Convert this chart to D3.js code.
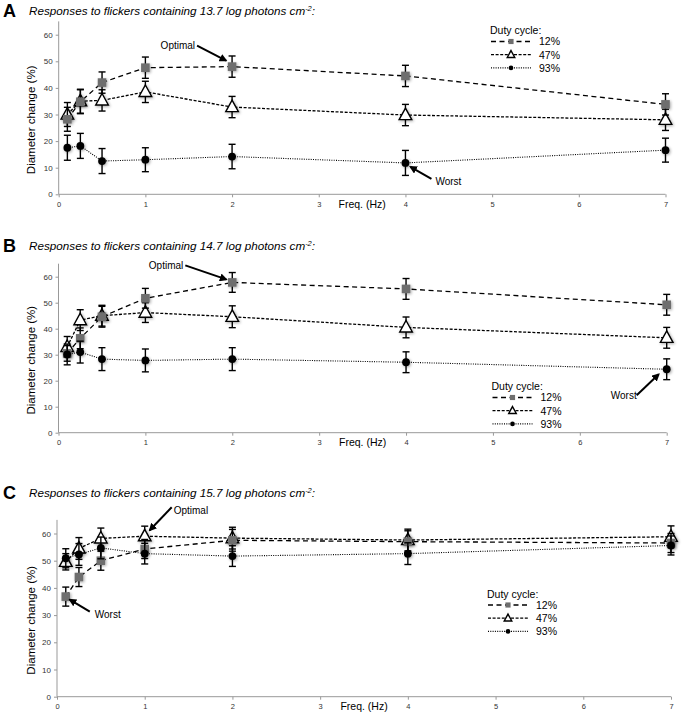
<!DOCTYPE html>
<html><head><meta charset="utf-8">
<script src="https://cdn.jsdelivr.net/npm/d3@7"></script>
<style>
body{margin:0;background:#fff;}
svg{display:block;font-family:"Liberation Sans",Arial,sans-serif;}
</style></head>
<body>
<svg id="chart" width="684" height="712"></svg>
<script>
// ---------- DATA ----------
const freqs = [0.1, 0.25, 0.5, 1, 2, 4, 7];
const xTicks = [0, 1, 2, 3, 4, 5, 6, 7];
const yTicks = [0, 10, 20, 30, 40, 50, 60];
const seriesNames = ["12%", "47%", "93%"];
const panelLetters = ["A", "B", "C"];
const intensities = ["13.7", "14.7", "15.7"];

// Panel A (13.7 log photons)
const a12 = [28.2, 34.8, 42.0, 47.6, 48.0, 44.5, 33.8];
const a47 = [30.0, 35.0, 35.3, 38.5, 32.8, 29.8, 28.0];
const a93 = [17.5, 18.2, 12.5, 13.0, 14.2, 11.8, 16.6];
const a12err = [4.5, 4.5, 4.0, 4.0, 4.0, 4.0, 4.0];
const a47err = [4.5, 4.5, 4.0, 4.0, 4.0, 4.0, 4.0];
const a93err = [4.7, 4.7, 4.7, 4.5, 4.6, 4.7, 4.5];
// Panel B (14.7 log photons)
const b12 = [30.5, 36.3, 44.6, 51.7, 57.8, 55.3, 49.2];
const b47 = [33.0, 43.3, 45.0, 46.2, 44.6, 40.5, 36.5];
const b93 = [30.1, 31.0, 28.3, 27.8, 28.3, 27.1, 24.4];
const b12err = [3.0, 4.0, 4.0, 3.8, 3.8, 4.0, 4.0];
const b47err = [4.0, 4.0, 4.0, 3.8, 4.2, 4.0, 4.0];
const b93err = [4.0, 4.2, 4.4, 4.4, 4.4, 4.0, 4.0];
// Panel C (15.7 log photons)
const c12 = [36.8, 44.0, 50.0, 54.3, 57.5, 57.0, 56.5];
const c47 = [49.6, 54.5, 58.2, 59.0, 58.3, 57.6, 58.8];
const c93 = [50.9, 52.3, 54.7, 52.6, 51.7, 52.6, 55.6];
const c12err = [3.5, 3.5, 3.5, 3.5, 4.0, 4.0, 3.5];
const c47err = [3.0, 4.0, 3.8, 3.7, 4.0, 4.0, 4.0];
const c93err = [3.5, 4.0, 4.0, 3.8, 3.8, 4.0, 3.5];

// annotations: label, panel, series index, point index
const annotations = [
  {panel: 0, text: "Optimal", s: 0, i: 4},
  {panel: 0, text: "Worst",   s: 2, i: 5},
  {panel: 1, text: "Optimal", s: 0, i: 4},
  {panel: 1, text: "Worst",   s: 2, i: 6},
  {panel: 2, text: "Optimal", s: 1, i: 3},
  {panel: 2, text: "Worst",   s: 0, i: 0}
];

// ---------- LAYOUT ----------
const panels = [
  {vals: [a12, a47, a93], errs: [a12err, a47err, a93err], x0: 58.7, x1: 665.5, yb: 194.3, ppu: 2.66, titleY: 15, legX: 490, legY: 34},
  {vals: [b12, b47, b93], errs: [b12err, b47err, b93err], x0: 58.5, x1: 666.7, yb: 432.7, ppu: 2.60, titleY: 250, legX: 491.5, legY: 390},
  {vals: [c12, c47, c93], errs: [c12err, c47err, c93err], x0: 57.0, x1: 671.0, yb: 696.7, ppu: 2.72, titleY: 497, legX: 487, legY: 597.5}
];
// annotation geometry (pixel offsets from the data point)
const annGeom = [
  {tip: [-6, -6], tail: [-35, -21], txt: [-37, -18], anchor: "end"},
  {tip: [5, 4], tail: [26, 16], txt: [30, 22], anchor: "start"},
  {tip: [-6, -3], tail: [-47, -17], txt: [-49, -13], anchor: "end"},
  {tip: [-8, 5], tail: [-30, 26], txt: [-30, 30], anchor: "end"},
  {tip: [5, -6], tail: [27, -29], txt: [29, -22], anchor: "start"},
  {tip: [4, 3], tail: [24, 15], txt: [29, 21], anchor: "start"}
];

const styles = [
  {dash: "5,3.5", width: 1.3},
  {dash: "3,1.6", width: 1.3},
  {dash: "1,1.3", width: 1.1}
];
const drawOrder = [1, 0, 2];

const svg = d3.select("#chart");
const defs = svg.append("defs");
const flt = defs.append("filter").attr("id", "glow").attr("x", "-60%").attr("y", "-60%").attr("width", "220%").attr("height", "220%");
flt.append("feGaussianBlur").attr("in", "SourceAlpha").attr("stdDeviation", 1.6).attr("result", "b");
flt.append("feOffset").attr("in", "b").attr("dx", 0.5).attr("dy", 1).attr("result", "o");
flt.append("feComponentTransfer").attr("in", "o").attr("result", "o2")
  .append("feFuncA").attr("type", "linear").attr("slope", 0.35);
const fm = flt.append("feMerge");
fm.append("feMergeNode").attr("in", "o2");
fm.append("feMergeNode").attr("in", "SourceGraphic");

defs.append("marker").attr("id", "arrow").attr("viewBox", "0 0 10 10")
  .attr("refX", 8).attr("refY", 5).attr("markerWidth", 4).attr("markerHeight", 4)
  .attr("orient", "auto").attr("markerUnits", "strokeWidth")
  .append("path").attr("d", "M0,0 L10,5 L0,10 z").attr("fill", "#000");

function drawMarker(g, s, x, y, scale) {
  scale = scale || 1;
  if (s === 0) {
    const h = 4.3 * scale;
    g.append("rect").attr("x", x - h).attr("y", y - h).attr("width", 2 * h).attr("height", 2 * h)
      .attr("fill", "#6e6e6e");
  } else if (s === 1) {
    const w = 6.3 * scale, ht = 11.5 * scale;
    g.append("path").attr("d", `M${x},${y - ht * 0.6} L${x + w},${y + ht * 0.4} L${x - w},${y + ht * 0.4} Z`)
      .attr("fill", "#fff").attr("stroke", "#000").attr("stroke-width", 1.4);
  } else {
    g.append("circle").attr("cx", x).attr("cy", y).attr("r", 3.9 * scale).attr("fill", "#000");
  }
}

panels.forEach((p, pi) => {
  const x = d3.scaleLinear().domain([0, 7]).range([p.x0, p.x1]);
  const y = d3.scaleLinear().domain([0, 65]).range([p.yb, p.yb - 65 * p.ppu]);
  const g = svg.append("g");

  // title
  g.append("text").attr("x", 3).attr("y", p.titleY + 2).attr("font-size", 18).attr("font-weight", "bold")
    .attr("fill", "#000").text(panelLetters[pi]);
  const t = g.append("text").attr("x", 29).attr("y", p.titleY).attr("font-size", 11.7)
    .attr("font-style", "italic").attr("fill", "#000");
  t.append("tspan").text("Responses to flickers containing " + intensities[pi] + " log photons cm");
  t.append("tspan").attr("font-size", 7.5).attr("dy", -4.5).text("-2");
  t.append("tspan").attr("dy", 4.5).text(":");

  // axes
  const yAxis = d3.axisLeft(y).tickValues(yTicks).tickSize(3).tickPadding(3).tickFormat(d3.format("d"));
  const ya = g.append("g").attr("transform", `translate(${p.x0},0)`).call(yAxis);
  ya.select(".domain").attr("stroke", "#999").attr("d", `M-0,${y(0)}V${y(65)}`);
  ya.selectAll(".tick line").attr("stroke", "#999");
  ya.selectAll(".tick text").attr("font-size", 8).attr("fill", "#333").attr("font-family", "Liberation Sans, Arial, sans-serif");

  const xAxis = d3.axisBottom(x).tickValues(xTicks).tickSize(3).tickPadding(4).tickFormat(d3.format("d"));
  const xa = g.append("g").attr("transform", `translate(0,${p.yb})`).call(xAxis);
  xa.select(".domain").attr("stroke", "#999").attr("d", `M${x(0)},0H${x(7)}`);
  xa.selectAll(".tick line").attr("stroke", "#999");
  xa.selectAll(".tick text").attr("font-size", 7.5).attr("fill", "#333").attr("font-family", "Liberation Sans, Arial, sans-serif");

  g.append("text").attr("x", (x(3) + x(4)) / 2).attr("y", p.yb + 13.2).attr("text-anchor", "middle")
    .attr("font-size", 10.5).attr("fill", "#000").text("Freq. (Hz)");

  const ymid = (y(0) + y(65)) / 2 + 12;
  g.append("text").attr("transform", `translate(35,${ymid}) rotate(-90)`).attr("text-anchor", "middle")
    .attr("font-size", 11.5).attr("fill", "#000").text("Diameter change (%)");

  // lines
  const line = d3.line().x((d, i) => x(freqs[i])).y(d => y(d));
  drawOrder.forEach(s => {
    g.append("path").datum(p.vals[s]).attr("d", line).attr("fill", "none")
      .attr("stroke", "#000").attr("stroke-width", styles[s].width).attr("stroke-dasharray", styles[s].dash);
  });

  // error bars + markers
  drawOrder.forEach(s => {
    const sg = g.append("g");
    p.vals[s].forEach((v, i) => {
      const cx = x(freqs[i]);
      const e = p.errs[s][i];
      const eg = sg.append("g").attr("stroke", "#000").attr("stroke-width", 1.4);
      eg.append("line").attr("x1", cx).attr("x2", cx).attr("y1", y(v - e)).attr("y2", y(v + e));
      eg.append("line").attr("x1", cx - 3.5).attr("x2", cx + 3.5).attr("y1", y(v - e)).attr("y2", y(v - e));
      eg.append("line").attr("x1", cx - 3.5).attr("x2", cx + 3.5).attr("y1", y(v + e)).attr("y2", y(v + e));
    });
    const mg = sg.append("g").attr("filter", "url(#glow)");
    p.vals[s].forEach((v, i) => drawMarker(mg, s, x(freqs[i]), y(v), 1));
  });

  // legend
  const lg = g.append("g");
  lg.append("text").attr("x", p.legX).attr("y", p.legY).attr("font-size", 10.5).attr("fill", "#000").text("Duty cycle:");
  seriesNames.forEach((n, s) => {
    const ly = p.legY + 7.5 + s * 13.2;
    lg.append("line").attr("x1", p.legX + 1).attr("x2", p.legX + 41).attr("y1", ly).attr("y2", ly)
      .attr("stroke", "#000").attr("stroke-width", styles[s].width).attr("stroke-dasharray", styles[s].dash);
    drawMarker(lg, s, p.legX + 21, ly, 0.6);
    lg.append("text").attr("x", p.legX + 49).attr("y", ly + 3.8).attr("font-size", 10.5).attr("fill", "#000").text(n);
  });

  // annotations
  annotations.forEach((a, ai) => {
    if (a.panel !== pi) return;
    const gm = annGeom[ai];
    const px = x(freqs[a.i]), py = y(p.vals[a.s][a.i]);
    g.append("line").attr("x1", px + gm.tail[0]).attr("y1", py + gm.tail[1])
      .attr("x2", px + gm.tip[0]).attr("y2", py + gm.tip[1])
      .attr("stroke", "#000").attr("stroke-width", 2).attr("marker-end", "url(#arrow)");
    g.append("text").attr("x", px + gm.txt[0]).attr("y", py + gm.txt[1]).attr("text-anchor", gm.anchor)
      .attr("font-size", 10).attr("fill", "#000").text(a.text);
  });
});
</script>
</body></html>
